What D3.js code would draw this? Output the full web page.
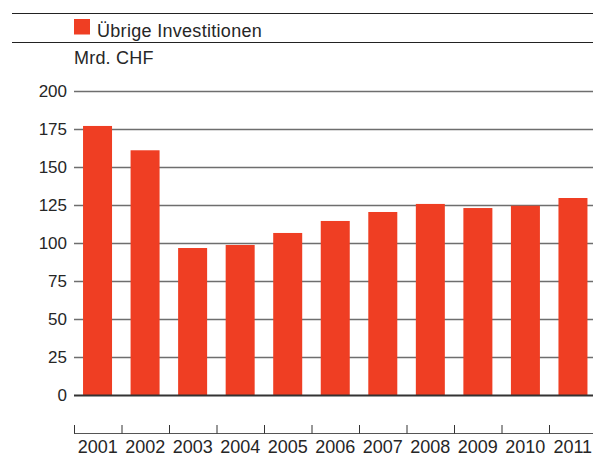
<!DOCTYPE html>
<html><head><meta charset="utf-8">
<script src="https://cdn.jsdelivr.net/npm/d3@7"></script>
<style>body{margin:0;background:#fff}svg{display:block}text{font-family:"Liberation Sans",Arial,sans-serif}</style>
</head><body>
<script>
const years = ["2001","2002","2003","2004","2005","2006","2007","2008","2009","2010","2011"];
const values = [177, 161, 96.7, 98.7, 106.6, 114.5, 120.4, 125.7, 123, 124.5, 129.6];
const yTicks = [0,25,50,75,100,125,150,175,200];
const seriesName = "Übrige Investitionen";
const unitLabel = "Mrd. CHF";

const W = 593, H = 457;
const svg = d3.select("body").append("svg").attr("width", W).attr("height", H);
const red = "#EF3E23";
const textCol = "#262626";

// header lines
svg.append("line").attr("x1",12).attr("x2",W).attr("y1",13.5).attr("y2",13.5).attr("stroke","#222").attr("stroke-width",1);
svg.append("line").attr("x1",12).attr("x2",W).attr("y1",42.5).attr("y2",42.5).attr("stroke","#222").attr("stroke-width",1);
svg.append("rect").attr("x",74).attr("y",19).attr("width",16).attr("height",15.5).attr("fill",red);
svg.append("text").attr("x",97).attr("y",36.5).attr("font-size",18).attr("fill",textCol).attr("letter-spacing",0.3).text(seriesName);
svg.append("text").attr("x",74).attr("y",63.5).attr("font-size",18).attr("fill",textCol).attr("letter-spacing",0.2).text(unitLabel);

const x = d3.scaleBand().domain(years).range([74, 74 + 47.5*years.length]).paddingInner(0.39).paddingOuter(0.19);
const xTicks = d3.scaleBand().domain(years).range([74, 74 + 47.5*years.length]);
const y = d3.scaleLinear().domain([0,200]).range([395,91]);

// gridlines
svg.append("g").selectAll("line").data(yTicks.filter(d=>d>0)).join("line")
  .attr("x1",74).attr("x2",W).attr("y1",d=>Math.round(y(d))+0.5).attr("y2",d=>Math.round(y(d))+0.5)
  .attr("stroke","#6e6e6e").attr("stroke-width",1.3);

// y labels
svg.append("g").selectAll("text").data(yTicks).join("text")
  .attr("x",67).attr("y",d=>y(d)+6).attr("text-anchor","end").attr("font-size",17).attr("fill",textCol).text(d=>d);

// bars
svg.append("g").selectAll("rect").data(values).join("rect")
  .attr("x",(d,i)=>x(years[i])).attr("width",x.bandwidth())
  .attr("y",d=>y(d)).attr("height",d=>y(0)-y(d)).attr("fill",red);

// zero line
svg.append("line").attr("x1",74).attr("x2",W).attr("y1",y(0)+0.5).attr("y2",y(0)+0.5).attr("stroke","#333").attr("stroke-width",2);

// bottom axis
const axisG = svg.append("g").attr("transform","translate(0,433)");
axisG.append("line").attr("x1",74).attr("x2",W).attr("y1",0.5).attr("y2",0.5).attr("stroke","#555").attr("stroke-width",1);
axisG.selectAll("line.t").data(years).join("line").attr("class","t")
  .attr("x1",d=>xTicks(d)+0.5).attr("x2",d=>xTicks(d)+0.5).attr("y1",-8).attr("y2",0.5).attr("stroke","#333").attr("stroke-width",1);
axisG.selectAll("text").data(years).join("text")
  .attr("x",d=>xTicks(d)+xTicks.bandwidth()/2).attr("y",20).attr("text-anchor","middle")
  .attr("font-size",18).attr("fill",textCol).text(d=>d);
</script>
</body></html>
